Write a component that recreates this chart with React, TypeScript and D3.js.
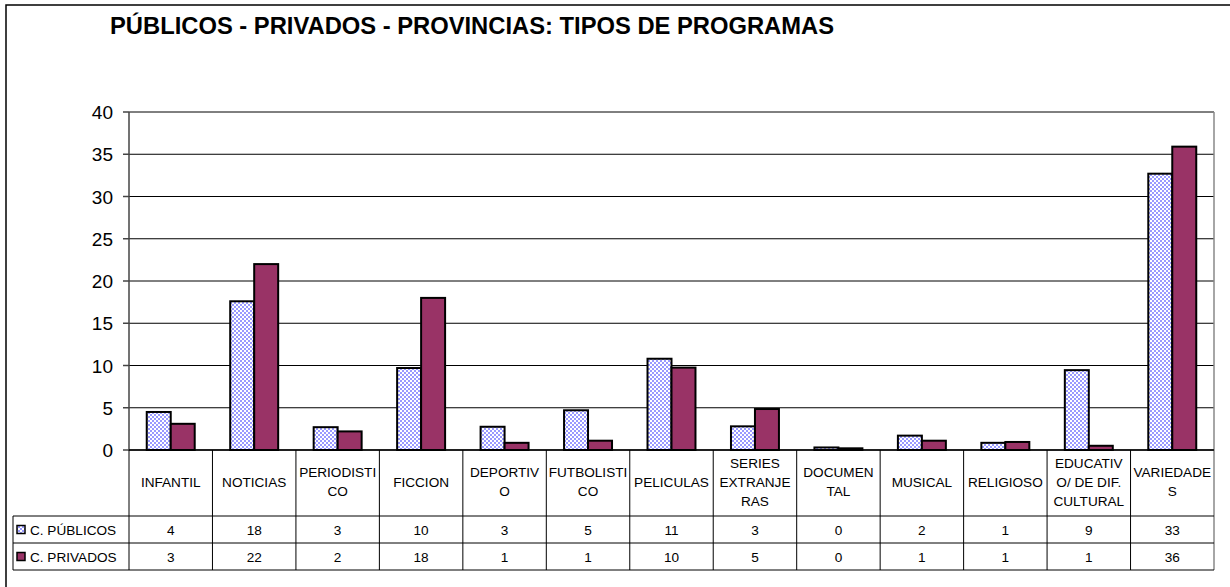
import * as d3 from 'd3';

const title = 'PÚBLICOS - PRIVADOS - PROVINCIAS: TIPOS DE PROGRAMAS';

const categories = [
  'INFANTIL',
  'NOTICIAS',
  'PERIODISTI\nCO',
  'FICCION',
  'DEPORTIV\nO',
  'FUTBOLISTI\nCO',
  'PELICULAS',
  'SERIES\nEXTRANJE\nRAS',
  'DOCUMEN\nTAL',
  'MUSICAL',
  'RELIGIOSO',
  'EDUCATIV\nO/ DE DIF.\nCULTURAL',
  'VARIEDADE\nS',
];

const seriesNames = ['C. PÚBLICOS', 'C. PRIVADOS'];

// bar heights
const publicos = [4.5, 17.6, 2.7, 9.7, 2.75, 4.7, 10.8, 2.8, 0.3, 1.7, 0.85, 9.45, 32.7];
const privados = [3.1, 22, 2.2, 18, 0.85, 1.1, 9.75, 4.85, 0.2, 1.1, 0.95, 0.5, 35.9];

// values printed in the data table
const publicosTable = [4, 18, 3, 10, 3, 5, 11, 3, 0, 2, 1, 9, 33];
const privadosTable = [3, 22, 2, 18, 1, 1, 10, 5, 0, 1, 1, 1, 36];

const yTicks = [0, 5, 10, 15, 20, 25, 30, 35, 40];

export default function App() {
  const width = 1230;
  const height = 587;
  const plotLeft = 129;
  const plotRight = 1214;
  const plotTop = 112;
  const plotBottom = 450;
  const headerBottom = 516;
  const row1Bottom = 543;
  const row2Bottom = 570;
  const legendLeft = 13;

  const x = d3.scaleBand<string>().domain(categories).range([plotLeft, plotRight]).paddingInner(0).paddingOuter(0);
  const xs = d3.scaleBand<string>().domain(seriesNames).range([0, x.bandwidth()]).paddingInner(0).paddingOuter(0.74);
  const y = d3.scaleLinear().domain([0, 40]).range([plotBottom, plotTop]);

  const series = [
    { name: seriesNames[0], values: publicos, table: publicosTable, fill: 'url(#checker)' },
    { name: seriesNames[1], values: privados, table: privadosTable, fill: '#993366' },
  ];

  const font = 'Arial, "Liberation Sans", sans-serif';
  const tableFont = 13.6;

  return (
    <svg
      width={width}
      height={height}
      style={{ position: 'absolute', left: 0, top: 0, background: '#fff' }}
      fontFamily={font}
    >
      <defs>
        <pattern id="checker" width={4} height={4} patternUnits="userSpaceOnUse">
          <rect width={4} height={4} fill="#ffffff" />
          <rect width={2} height={2} fill="#9999ff" />
          <rect x={2} y={2} width={2} height={2} fill="#9999ff" />
        </pattern>
      </defs>

      {/* outer chart frame */}
      <rect x={6} y={5} width={1240} height={600} fill="none" stroke="#000" strokeWidth={1.5} />

      <text x={110} y={34} fontSize={23.5} fontWeight="bold" fill="#000" textLength={724} lengthAdjust="spacingAndGlyphs">
        {title}
      </text>

      {/* gridlines */}
      {yTicks.map((t) => (
        <line key={t} x1={plotLeft} x2={plotRight} y1={y(t)} y2={y(t)} stroke="#000" strokeWidth={1} />
      ))}
      <line x1={plotRight} x2={plotRight} y1={plotTop} y2={plotBottom} stroke="#888" strokeWidth={1.5} />

      {/* y axis */}
      <line x1={plotLeft} x2={plotLeft} y1={plotTop} y2={plotBottom} stroke="#444" strokeWidth={1.5} />
      {yTicks.map((t) => (
        <g key={t}>
          <line x1={plotLeft - 6} x2={plotLeft} y1={y(t)} y2={y(t)} stroke="#444" strokeWidth={1.5} />
          <text x={113} y={y(t) + 7} fontSize={19} textAnchor="end" fill="#000">
            {t}
          </text>
        </g>
      ))}

      {/* bars */}
      {series.map((s) =>
        categories.map((c, i) => (
          <rect
            key={s.name + c}
            x={(x(c) ?? 0) + (xs(s.name) ?? 0)}
            y={y(s.values[i])}
            width={xs.bandwidth()}
            height={plotBottom - y(s.values[i])}
            fill={s.fill}
            stroke="#000"
            strokeWidth={2}
          />
        ))
      )}

      {/* data table */}
      <g stroke="#000" strokeWidth={1}>
        {categories.map((c) => (
          <line key={c} x1={x(c)} x2={x(c)} y1={plotBottom} y2={row2Bottom} />
        ))}
        <line x1={plotRight} x2={plotRight} y1={plotBottom} y2={row2Bottom} stroke="#888" strokeWidth={1.5} />
        <line x1={legendLeft} x2={legendLeft} y1={headerBottom} y2={row2Bottom} />
        <line x1={legendLeft} x2={plotRight} y1={headerBottom} y2={headerBottom} />
        <line x1={legendLeft} x2={plotRight} y1={row1Bottom} y2={row1Bottom} />
        <line x1={legendLeft} x2={plotRight} y1={row2Bottom} y2={row2Bottom} />
      </g>
      <line x1={plotLeft} x2={plotRight} y1={plotBottom} y2={plotBottom} stroke="#000" strokeWidth={1.5} />

      {categories.map((c) => {
        const lines = c.split('\n');
        const cx = (x(c) ?? 0) + x.bandwidth() / 2;
        const lh = 19;
        const start = 481.5 - ((lines.length - 1) * lh) / 2;
        return (
          <text key={c} fontSize={tableFont} textAnchor="middle" fill="#000">
            {lines.map((l, j) => (
              <tspan key={j} x={cx} y={start + j * lh + 5}>
                {l}
              </tspan>
            ))}
          </text>
        );
      })}

      {series.map((s, k) => {
        const rowTop = k === 0 ? headerBottom : row1Bottom;
        const rowMid = rowTop + 13.5;
        return (
          <g key={s.name}>
            <rect x={17} y={rowMid - 4} width={8} height={8} fill={s.fill} stroke="#000" strokeWidth={1.5} />
            <text x={30} y={rowMid + 5} fontSize={tableFont} fill="#000">
              {s.name}
            </text>
            {categories.map((c, i) => (
              <text
                key={c}
                x={(x(c) ?? 0) + x.bandwidth() / 2}
                y={rowMid + 5}
                fontSize={tableFont}
                textAnchor="middle"
                fill="#000"
              >
                {s.table[i]}
              </text>
            ))}
          </g>
        );
      })}
    </svg>
  );
}
